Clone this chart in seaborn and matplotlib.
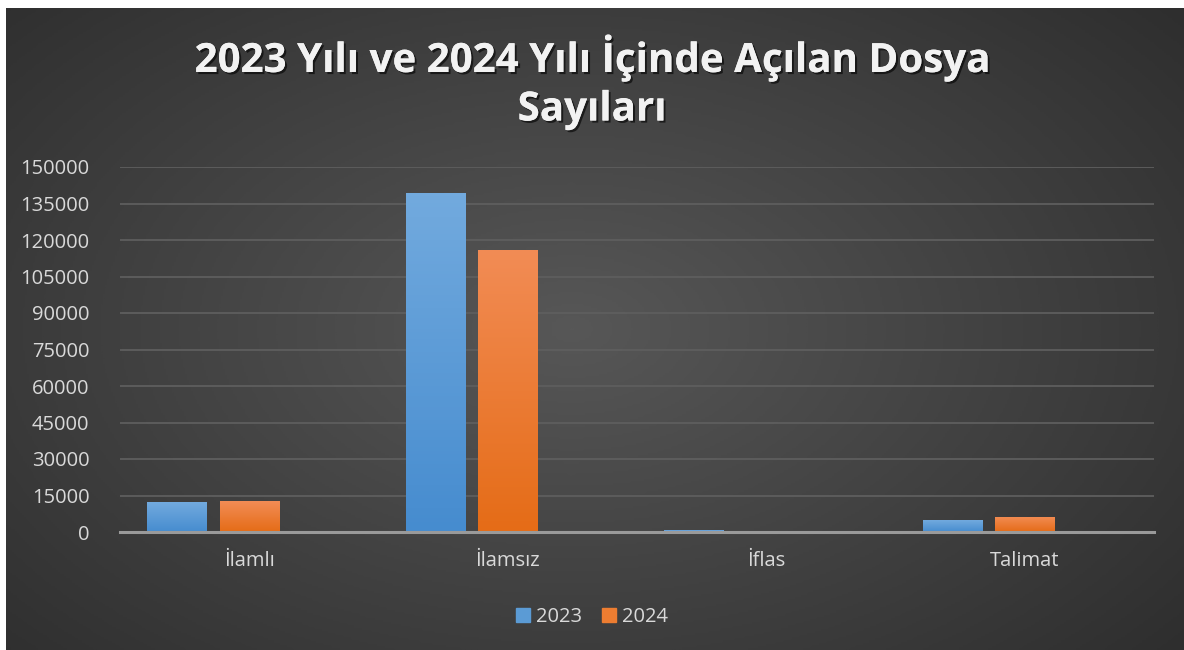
import numpy as np
import pandas as pd
import matplotlib.pyplot as plt
import matplotlib.colors as mcolors
import matplotlib.patheffects as pe
import seaborn as sns

# veri
kategoriler = ['İlamlı', 'İlamsız', 'İflas', 'Talimat']
yil_2023 = [12300, 139300, 700, 4900]
yil_2024 = [12700, 115900, 600, 6200]
yillar = ['2023', '2024']

df = pd.DataFrame({
    'Kategori': kategoriler * 2,
    'Yil': ['2023'] * 4 + ['2024'] * 4,
    'Dosya': yil_2023 + yil_2024,
})

sns.set_theme(style="dark")
plt.rcParams['font.family'] = ['Open Sans', 'DejaVu Sans']

W, H = 11.84, 6.5
fig = plt.figure(figsize=(W, H), dpi=100)
fig.patch.set_facecolor('white')

# arka plan: radyal gradyan
bg = fig.add_axes([6 / 1184, 0, 1 - 6 / 1184, 1 - 8 / 650])
yy, xx = np.mgrid[0:1:300j, 0:1:600j]
r = np.sqrt(((xx - 0.48) / 0.75) ** 2 + ((yy - 0.5) / 0.85) ** 2)
r = np.clip(r, 0, 1)
bg_cmap = mcolors.LinearSegmentedColormap.from_list('bg', ['#575757', '#2a2a2a'])
bg.imshow(r, cmap=bg_cmap, aspect='auto', extent=[0, 1, 0, 1], vmin=0, vmax=1)
bg.axis('off')

ax = fig.add_axes([120 / 1184, 1 - 532 / 650, (1154 - 120) / 1184, (532 - 167) / 650])
ax.patch.set_alpha(0)

renkler = {'2023': '#5b9bd5', '2024': '#ed7d31'}
sns.barplot(data=df, x='Kategori', y='Dosya', hue='Yil', palette=renkler,
            width=0.56, gap=0.18, ax=ax, legend=False, zorder=3)

# çubuklara gradyan
ust = {'2023': '#72aade', '2024': '#f28c55'}
alt = {'2023': '#468ccf', '2024': '#e56c17'}
for cont, yil in zip(ax.containers, yillar):
    cmap = mcolors.LinearSegmentedColormap.from_list('g' + yil, [alt[yil], ust[yil]])
    for bar in cont:
        x0, y0 = bar.get_x(), bar.get_y()
        w, h = bar.get_width(), bar.get_height()
        bar.set_facecolor('none')
        bar.set_edgecolor('none')
        grad = np.linspace(0, 1, 100).reshape(-1, 1)
        im = ax.imshow(grad, cmap=cmap, origin='lower', aspect='auto',
                       extent=[x0, x0 + w, y0, y0 + h], zorder=3)
        im.set_clip_path(bar)

# Excel'deki gibi çubuk grupları etiketlerin biraz solunda
kayma = 0.14
ax.set_xlim(-0.36, 3.64)
ax.set_xticks(np.arange(len(kategoriler)) + kayma)
ax.set_xticklabels(kategoriler)
ax.set_ylim(0, 150000)
ax.set_yticks(np.arange(0, 150001, 15000))
ax.yaxis.grid(True, color='#5e5e5e', linewidth=1.3, zorder=0)
ax.xaxis.grid(False)
for s in ['top', 'right', 'left']:
    ax.spines[s].set_visible(False)
ax.spines['bottom'].set_color('#9a9a9a')
ax.spines['bottom'].set_linewidth(2.2)
ax.spines['bottom'].set_zorder(4)
ax.tick_params(axis='y', colors='#d9d9d9', labelsize=14.5, length=0, pad=22)
ax.tick_params(axis='x', colors='#d9d9d9', labelsize=14.5, length=0, pad=14)
for lab in ax.get_yticklabels() + ax.get_xticklabels():
    lab.set_color('#d9d9d9')
ax.set_xlabel('')
ax.set_ylabel('')

golge = [pe.withSimplePatchShadow(offset=(1.5, -1.5), shadow_rgbFace='black', alpha=0.6), pe.Normal()]
fig.text(0.5, 1 - 58 / 650, '2023 Yılı ve 2024 Yılı İçinde Açılan Dosya', ha='center', va='center',
         fontsize=29, fontweight='bold', color='#f2f2f2', path_effects=golge)
fig.text(0.5, 1 - 110 / 650, 'Sayıları', ha='center', va='center',
         fontsize=29, fontweight='bold', color='#f2f2f2', path_effects=golge)

handles = [plt.Rectangle((0, 0), 1, 1, color=renkler[y]) for y in yillar]
fig.legend(handles, yillar, loc='center', bbox_to_anchor=(0.5, 1 - 617 / 650), ncol=2,
           frameon=False, fontsize=14.5, labelcolor='#d9d9d9', handlelength=0.7,
           handleheight=0.7, handletextpad=0.3, columnspacing=1.0)

fig.savefig('out.png', dpi=100, facecolor=fig.get_facecolor())
